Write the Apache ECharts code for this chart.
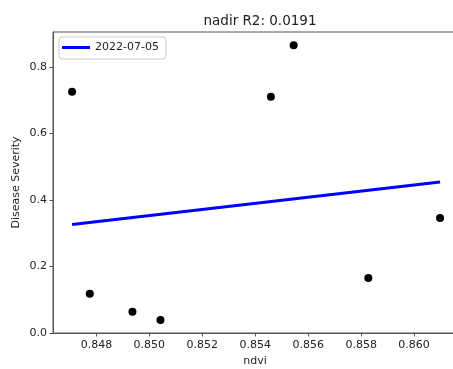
<!DOCTYPE html>
<html>
<head>
<meta charset="utf-8">
<script src="https://cdn.jsdelivr.net/npm/echarts@6/dist/echarts.min.js"></script>
<style>
  html, body { margin: 0; padding: 0; background: #fff; }
  #chart { width: 453px; height: 369px; }
</style>
</head>
<body>
<div id="chart"></div>
<script>
// Observations: NDVI vs. disease severity
const ndvi = [0.84708, 0.84775, 0.84936, 0.85042, 0.85459, 0.85545, 0.85827, 0.86098];
const severity = [0.725, 0.118, 0.064, 0.039, 0.710, 0.865, 0.165, 0.346];

// Linear fit evaluated at the ends of the NDVI range
const fitX = [0.84708, 0.86098];
const fitY = [0.326, 0.454];

const fitName = '2022-07-05';
const titleText = 'nadir R2: 0.0191';

const xTicks = [0.848, 0.850, 0.852, 0.854, 0.856, 0.858, 0.860];
const yTicks = [0.0, 0.2, 0.4, 0.6, 0.8];

const FONT = 'DejaVu Sans';
const AXIS_COLOR = '#555';
const TEXT_COLOR = '#222';
const LABEL_SIZE = 11;

const chart = echarts.init(document.getElementById('chart'), null, { renderer: 'canvas' });

chart.setOption({
  animation: false,
  backgroundColor: '#fff',
  title: {
    text: titleText,
    left: 255,
    textAlign: 'center',
    top: 9,
    textStyle: { fontFamily: FONT, fontSize: 13.5, fontWeight: 'normal', color: TEXT_COLOR }
  },
  legend: {
    data: [fitName],
    left: 59,
    top: 37,
    padding: [5, 7, 6, 3],
    icon: 'rect',
    itemWidth: 28,
    itemHeight: 3,
    borderColor: '#ccc',
    borderWidth: 1,
    borderRadius: 3,
    backgroundColor: 'rgba(255,255,255,0.8)',
    textStyle: { fontFamily: FONT, fontSize: LABEL_SIZE, color: TEXT_COLOR }
  },
  grid: {
    left: 53,
    top: 32,
    bottom: 36,
    right: -4,
    containLabel: false,
    outerBoundsMode: 'none',
    show: true,
    borderColor: AXIS_COLOR,
    borderWidth: 1
  },
  xAxis: {
    type: 'value',
    min: 0.84636,
    max: 0.86162,
    name: 'ndvi',
    nameLocation: 'middle',
    nameGap: 23,
    nameMoveOverlap: false,
    nameTextStyle: { fontFamily: FONT, fontSize: LABEL_SIZE, color: TEXT_COLOR },
    splitLine: { show: false },
    axisLine: { show: true, lineStyle: { color: AXIS_COLOR, width: 1 } },
    axisTick: { show: true, length: 3.5, inside: false, customValues: xTicks, lineStyle: { color: AXIS_COLOR } },
    axisLabel: {
      customValues: xTicks,
      margin: 7,
      fontFamily: FONT,
      fontSize: LABEL_SIZE,
      color: TEXT_COLOR,
      formatter: v => v.toFixed(3)
    }
  },
  yAxis: {
    type: 'value',
    min: 0,
    max: 0.905,
    name: 'Disease Severity',
    nameLocation: 'middle',
    nameGap: 31,
    nameMoveOverlap: false,
    nameTextStyle: { fontFamily: FONT, fontSize: LABEL_SIZE, color: TEXT_COLOR },
    splitLine: { show: false },
    axisLine: { show: true, lineStyle: { color: AXIS_COLOR, width: 1 } },
    axisTick: { show: true, length: 3.5, inside: false, customValues: yTicks, lineStyle: { color: AXIS_COLOR } },
    axisLabel: {
      customValues: yTicks,
      margin: 6,
      fontFamily: FONT,
      fontSize: LABEL_SIZE,
      color: TEXT_COLOR,
      formatter: v => v.toFixed(1)
    }
  },
  series: [
    {
      name: 'observations',
      type: 'scatter',
      data: ndvi.map((x, i) => [x, severity[i]]),
      symbol: 'circle',
      symbolSize: 8,
      itemStyle: { color: '#000', opacity: 1 },
      z: 3
    },
    {
      name: fitName,
      type: 'line',
      data: fitX.map((x, i) => [x, fitY[i]]),
      showSymbol: false,
      lineStyle: { color: '#0000ff', width: 3 },
      itemStyle: { color: '#0000ff' },
      z: 2
    }
  ]
});
</script>
</body>
</html>
